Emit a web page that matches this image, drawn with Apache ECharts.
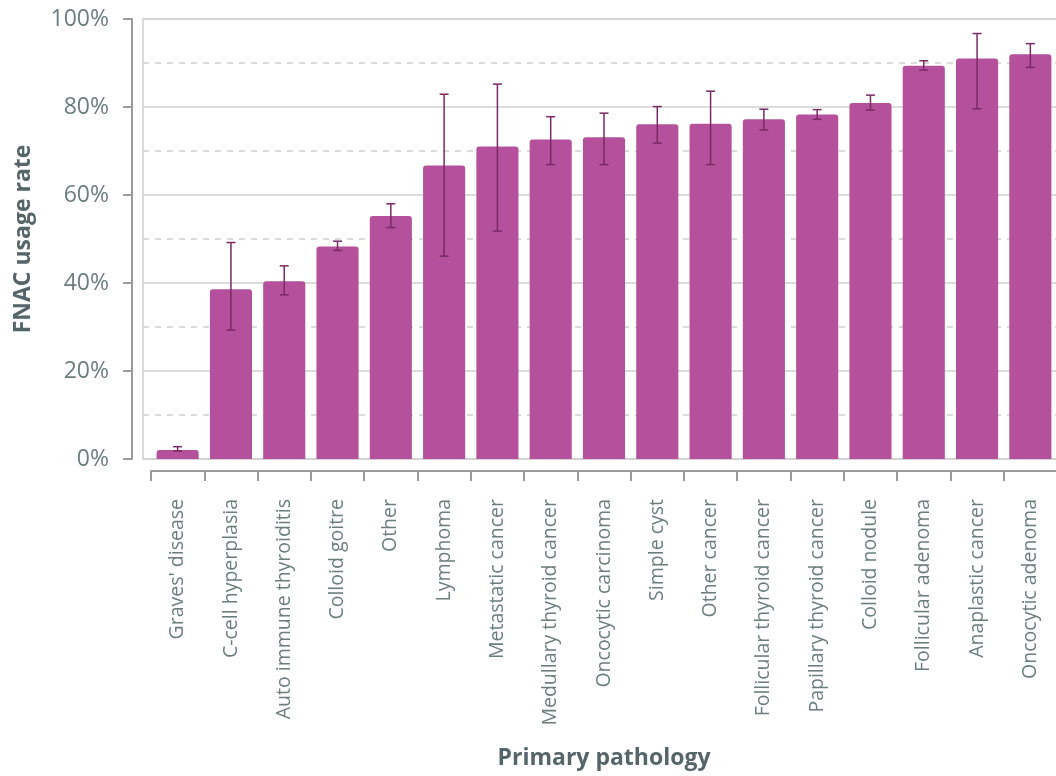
<!DOCTYPE html>
<html>
<head>
<meta charset="utf-8">
<script src="https://cdn.jsdelivr.net/npm/echarts@6/dist/echarts.min.js"></script>
<style>
  html, body { margin: 0; padding: 0; background: #ffffff; }
  #chart { width: 1056px; height: 776px; }
</style>
</head>
<body>
<div id="chart"></div>
<script>
// FNAC usage rate by primary pathology, with confidence intervals
const categories = [
  "Graves' disease", 'C-cell hyperplasia', 'Auto immune thyroiditis', 'Colloid goitre',
  'Other', 'Lymphoma', 'Metastatic cancer', 'Medullary thyroid cancer',
  'Oncocytic carcinoma', 'Simple cyst', 'Other cancer', 'Follicular thyroid cancer',
  'Papillary thyroid cancer', 'Colloid nodule', 'Follicular adenoma',
  'Anaplastic cancer', 'Oncocytic adenoma'
];
const rates   = [2.05, 38.6, 40.4, 48.3, 55.2, 66.7, 71.0, 72.6, 73.1, 76.1, 76.2, 77.2, 78.3, 80.9, 89.4, 91.0, 92.0];
const ciLow   = [1.8, 29.3, 37.3, 47.4, 52.6, 46.1, 51.8, 66.9, 66.9, 71.8, 66.9, 74.8, 77.2, 79.3, 88.4, 79.6, 89.0];
const ciHigh  = [2.8, 49.2, 43.9, 49.5, 58.0, 82.9, 85.2, 77.8, 78.6, 80.1, 83.6, 79.5, 79.4, 82.7, 90.5, 96.7, 94.4];
const yMin = 0, yMax = 100, yStep = 20;

const FONT = 'Open Sans';
const labelColor = '#6c7d7e';
const titleColor = '#55656a';
const axisGrey = '#9b9b9b';
const gridGrey = '#d0d0d0';
const barColor = '#b4509c';
const errColor = '#7b2965';

const errData = categories.map((c, i) => [i, ciLow[i], ciHigh[i]]);

const chart = echarts.init(document.getElementById('chart'), null, { renderer: 'canvas' });

chart.setOption({
  animation: false,
  backgroundColor: '#ffffff',
  grid: [
    // frame with value axis and gridlines
    { left: 143, right: -3, top: 19, bottom: 317, outerBoundsMode: 'none', containLabel: false,
      show: true, borderColor: gridGrey, borderWidth: 1.5, backgroundColor: 'transparent' },
    // bars and category axis
    { left: 151, right: -1, top: 19, bottom: 317, outerBoundsMode: 'none', containLabel: false }
  ],
  xAxis: [
    { gridIndex: 0, type: 'value', show: false, min: 0, max: 1 },
    {
      gridIndex: 1, type: 'category', data: categories, offset: 12,
      name: 'Primary pathology', nameLocation: 'middle', nameGap: 276,
      nameTextStyle: { fontFamily: FONT, fontSize: 23, fontWeight: 'bold', color: titleColor },
      axisLine: { show: true, onZero: false, lineStyle: { color: axisGrey, width: 2 } },
      axisTick: { show: true, length: 10, lineStyle: { color: axisGrey, width: 2 } },
      axisLabel: { rotate: 90, margin: 28, fontFamily: FONT, fontSize: 19.5, color: labelColor, interval: 0 },
      splitLine: { show: false }
    }
  ],
  yAxis: [
    {
      gridIndex: 0, type: 'value', min: yMin, max: yMax, interval: yStep, offset: 11,
      name: 'FNAC usage rate', nameLocation: 'middle', nameGap: 97,
      nameTextStyle: { fontFamily: FONT, fontSize: 23, fontWeight: 'bold', color: titleColor },
      axisLine: { show: true, onZero: false, lineStyle: { color: axisGrey, width: 2 } },
      axisTick: { show: true, length: 9, lineStyle: { color: axisGrey, width: 2 } },
      axisLabel: { formatter: '{value}%', margin: 23, fontFamily: FONT, fontSize: 23, color: labelColor },
      splitLine: { show: true, lineStyle: { color: gridGrey, width: 1.5 } },
      minorTick: { show: false, splitNumber: 2 },
      minorSplitLine: { show: true, lineStyle: { color: gridGrey, width: 1.5, type: [6, 6] } }
    },
    { gridIndex: 1, type: 'value', min: yMin, max: yMax, show: false, splitLine: { show: false } }
  ],
  series: [
    {
      type: 'bar', xAxisIndex: 1, yAxisIndex: 1, data: rates,
      barCategoryGap: '21%',
      itemStyle: { color: barColor, borderRadius: [3, 3, 0, 0] }
    },
    {
      type: 'custom', xAxisIndex: 1, yAxisIndex: 1, data: errData,
      encode: { x: 0, y: [1, 2] }, z: 5,
      renderItem: function (params, api) {
        const i = api.value(0);
        const lo = api.coord([i, api.value(1)]);
        const hi = api.coord([i, api.value(2)]);
        const hw = 4.5;
        const style = { stroke: errColor, lineWidth: 1.5 };
        return {
          type: 'group',
          children: [
            { type: 'line', shape: { x1: hi[0], y1: hi[1], x2: lo[0], y2: lo[1] }, style: style },
            { type: 'line', shape: { x1: hi[0] - hw, y1: hi[1], x2: hi[0] + hw, y2: hi[1] }, style: style },
            { type: 'line', shape: { x1: lo[0] - hw, y1: lo[1], x2: lo[0] + hw, y2: lo[1] }, style: style }
          ]
        };
      }
    }
  ]
});
</script>
</body>
</html>
